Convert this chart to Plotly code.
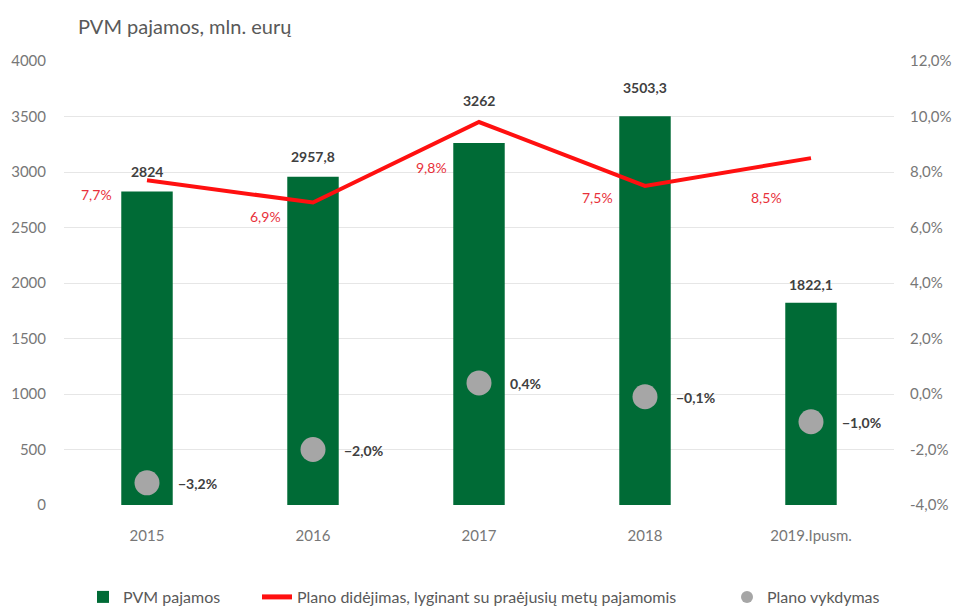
import plotly.graph_objects as go

categories = ["2015", "2016", "2017", "2018", "2019.Ipusm."]
pvm_revenue = [2824, 2957.8, 3262, 3503.3, 1822.1]
plan_growth = [7.7, 6.9, 9.8, 7.5, 8.5]
plan_execution = [-3.2, -2.0, 0.4, -0.1, -1.0]

left_ticks = [0, 500, 1000, 1500, 2000, 2500, 3000, 3500, 4000]
left_ticktext = [str(v) for v in left_ticks]
right_ticks = [-4, -2, 0, 2, 4, 6, 8, 10, 12]
right_ticktext = [f"{v:.1f}%".replace(".", ",") for v in right_ticks]

def fmt(v):
    return f"{v:g}".replace(".", ",")

GREEN = "#006B36"
RED = "#FF1010"
GREY = "#A6A6A6"
TXT = "#595959"
TICK = "#777777"
FONT = "Lato"
W, H = 953, 607
ML, MR, MT, MB = 64, 59, 61, 102
PW, PH = W - ML - MR, H - MT - MB

xpos = list(range(len(categories)))

fig = go.Figure()
fig.add_trace(go.Bar(
    x=xpos, y=pvm_revenue, name="PVM pajamos",
    marker=dict(color=GREEN, line=dict(width=0)), width=0.31,
    yaxis="y", hoverinfo="skip", legend="legend",
))
fig.add_trace(go.Scatter(
    x=xpos, y=plan_growth, name="Plano didėjimas, lyginant su praėjusių metų pajamomis",
    mode="lines", line=dict(color=RED, width=4), yaxis="y2", legend="legend2",
))
fig.add_trace(go.Scatter(
    x=xpos, y=plan_execution, name="Plano vykdymas",
    mode="markers", marker=dict(color=GREY, size=25, line=dict(width=0)), yaxis="y2",
    legend="legend3",
))

annotations = []
bar_shift = [20, 20, 42, 29, 18]
for i, v, s in zip(xpos, pvm_revenue, bar_shift):
    annotations.append(dict(x=i, y=v, xref="x", yref="y", text=fmt(v),
                            showarrow=False, yshift=s,
                            font=dict(family=FONT, size=14, color="#404040", weight=700)))
growth_shift = [(-51, -14), (-48, -14), (-48, -45), (-48, -12), (-45, -39)]
for i, v, (xs, ys) in zip(xpos, plan_growth, growth_shift):
    annotations.append(dict(x=i, y=v, xref="x", yref="y2", text=fmt(v) + "%", showarrow=False,
                            xshift=xs, yshift=ys, font=dict(family=FONT, size=14, color="#E8303A")))
for i, v in zip(xpos, plan_execution):
    annotations.append(dict(x=i, y=v, xref="x", yref="y2",
                            text=f"{v:.1f}%".replace(".", ",").replace("-", "\u2212"),
                            showarrow=False, xanchor="left", xshift=29, yshift=-1,
                            font=dict(family=FONT, size=14, color="#404040", weight=700)))
annotations.append(dict(x=(76 - ML) / PW, y=(H - MB - 26) / PH, xref="paper", yref="paper",
                        text="PVM pajamos, mln. eurų", showarrow=False,
                        xanchor="left", yanchor="middle",
                        font=dict(family=FONT, size=20, color=TXT)))

def leg(xpx):
    return dict(orientation="h", xref="container", yref="container",
                x=xpx / W, xanchor="left", y=1 - 597 / H, yanchor="middle",
                font=dict(family=FONT, size=16, color=TXT), itemsizing="constant",
                bgcolor="rgba(0,0,0,0)")

fig.update_layout(
    width=W, height=H,
    margin=dict(l=ML, r=MR, t=MT, b=MB, autoexpand=False),
    paper_bgcolor="white", plot_bgcolor="white",
    font=dict(family=FONT, size=15, color=TXT),
    showlegend=True,
    legend=leg(83), legend2=leg(257), legend3=leg(727),
    xaxis=dict(range=[-0.5, 4.5], tickvals=xpos, ticktext=categories,
               showgrid=False, ticks="", showline=False, zeroline=False,
               ticklabelstandoff=20, automargin=False,
               tickfont=dict(family=FONT, size=15, color=TICK)),
    yaxis=dict(range=[0, 4000], tickvals=left_ticks, ticktext=left_ticktext,
               showgrid=True, gridcolor="#E6E6E6", gridwidth=1, zeroline=False,
               showline=False, ticks="", ticklabelstandoff=17, automargin=False,
               tickfont=dict(family=FONT, size=15, color=TICK)),
    yaxis2=dict(range=[-4, 12], tickvals=right_ticks, ticktext=right_ticktext,
                overlaying="y", side="right", showgrid=False, zeroline=False,
                showline=False, ticks="", ticklabelstandoff=15, automargin=False,
                tickfont=dict(family=FONT, size=15, color=TICK)),
    annotations=annotations,
)

fig.write_html("out.html")
